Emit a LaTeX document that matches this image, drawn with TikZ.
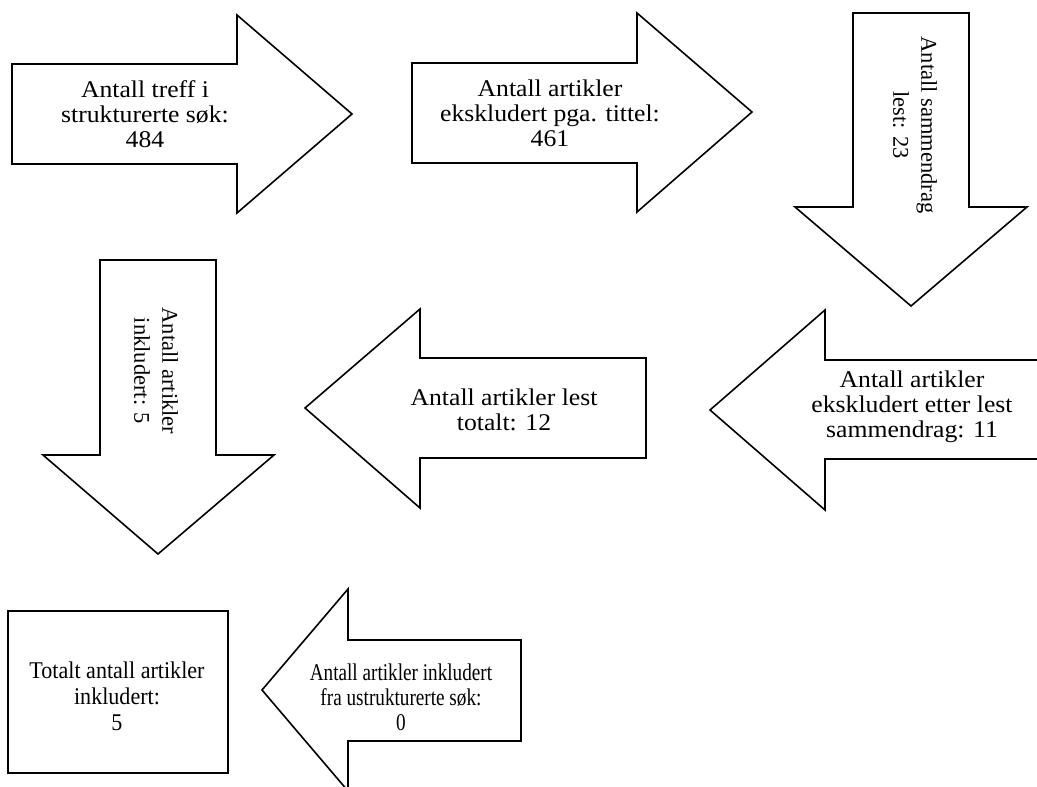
\documentclass[tikz,border=0pt]{standalone}
\usepackage{fontspec}
\setmainfont{Liberation Serif}
\newfontfamily\wideserif[FakeStretch=1.07]{Liberation Serif}
\newfontfamily\boxserif[FakeStretch=0.92]{Liberation Serif}
\newfontfamily\tightserif[FakeStretch=0.80]{Liberation Serif}
\usetikzlibrary{positioning}
\tikzset{bigarrow/.style={draw, line width=1.6pt, fill=white, line join=miter},
arrowtext/.style={align=center, inner sep=0pt, font=\wideserif\fontsize{24}{25}\selectfont},
sidetext/.style={align=center, inner sep=0pt, rotate=-90, font=\fontsize{22.5}{28}\selectfont}}

\begin{document}
\begin{tikzpicture}[x=1pt, y=-1pt]
				\useasboundingbox (0,0) rectangle (1037,787);
				% top row
				\draw[bigarrow] (12,64) -- (237,64) -- (237,15) -- (352,114) -- (237,213) -- (237,164) -- (12,164) -- cycle;
				\node[arrowtext] (treff) at (145,114) {Antall treff i\\strukturerte søk:\\484};
				\draw[bigarrow] (412,63) -- (637,63) -- (637,13) -- (752,112) -- (637,212) -- (637,163) -- (412,163) -- cycle;
				\node[arrowtext] (tittel) at (550,113) {Antall artikler\\ekskludert pga. tittel:\\461};
				\draw[bigarrow] (853,13) -- (969,13) -- (969,207) -- (1027,207) -- (911,306) -- (795,207) -- (853,207) -- cycle;
				\node[sidetext] (sammendrag) at (915,125) {Antall sammendrag\\lest: 23};
				% middle row
				\draw[bigarrow] (100,260) -- (216,260) -- (216,455) -- (274,455) -- (158,554) -- (43,455) -- (100,455) -- cycle;
				\node[sidetext] (inkl) at (156,371) {Antall artikler\\inkludert: 5};
				\draw[bigarrow] (646,358) -- (420,358) -- (420,309) -- (305,408) -- (420,508) -- (420,458) -- (646,458) -- cycle;
				\node[arrowtext] (lest) at (504,410) {Antall artikler lest\\totalt: 12};
				\draw[bigarrow] (1045,360) -- (825,360) -- (825,310) -- (710,410) -- (825,510) -- (825,459) -- (1045,459);
				\node[arrowtext] (ekskl) at (912,407) {Antall artikler\\ekskludert etter lest\\sammendrag: 11};
				% bottom row
				\draw[bigarrow] (8,611) rectangle (228,773);
				\node[arrowtext, font=\boxserif\fontsize{24}{26}\selectfont] (totalt) at (117,696) {Totalt antall artikler\\inkludert:\\5};
				\draw[bigarrow] (521,640) -- (348,640) -- (348,589) -- (262,690) -- (348,791) -- (348,741) -- (521,741) -- cycle;
				\node[arrowtext, font=\tightserif\fontsize{24}{25}\selectfont] (ustrukt) at (401,697) {Antall artikler inkludert\\fra ustrukturerte søk:\\0};
\end{tikzpicture}
\end{document}
